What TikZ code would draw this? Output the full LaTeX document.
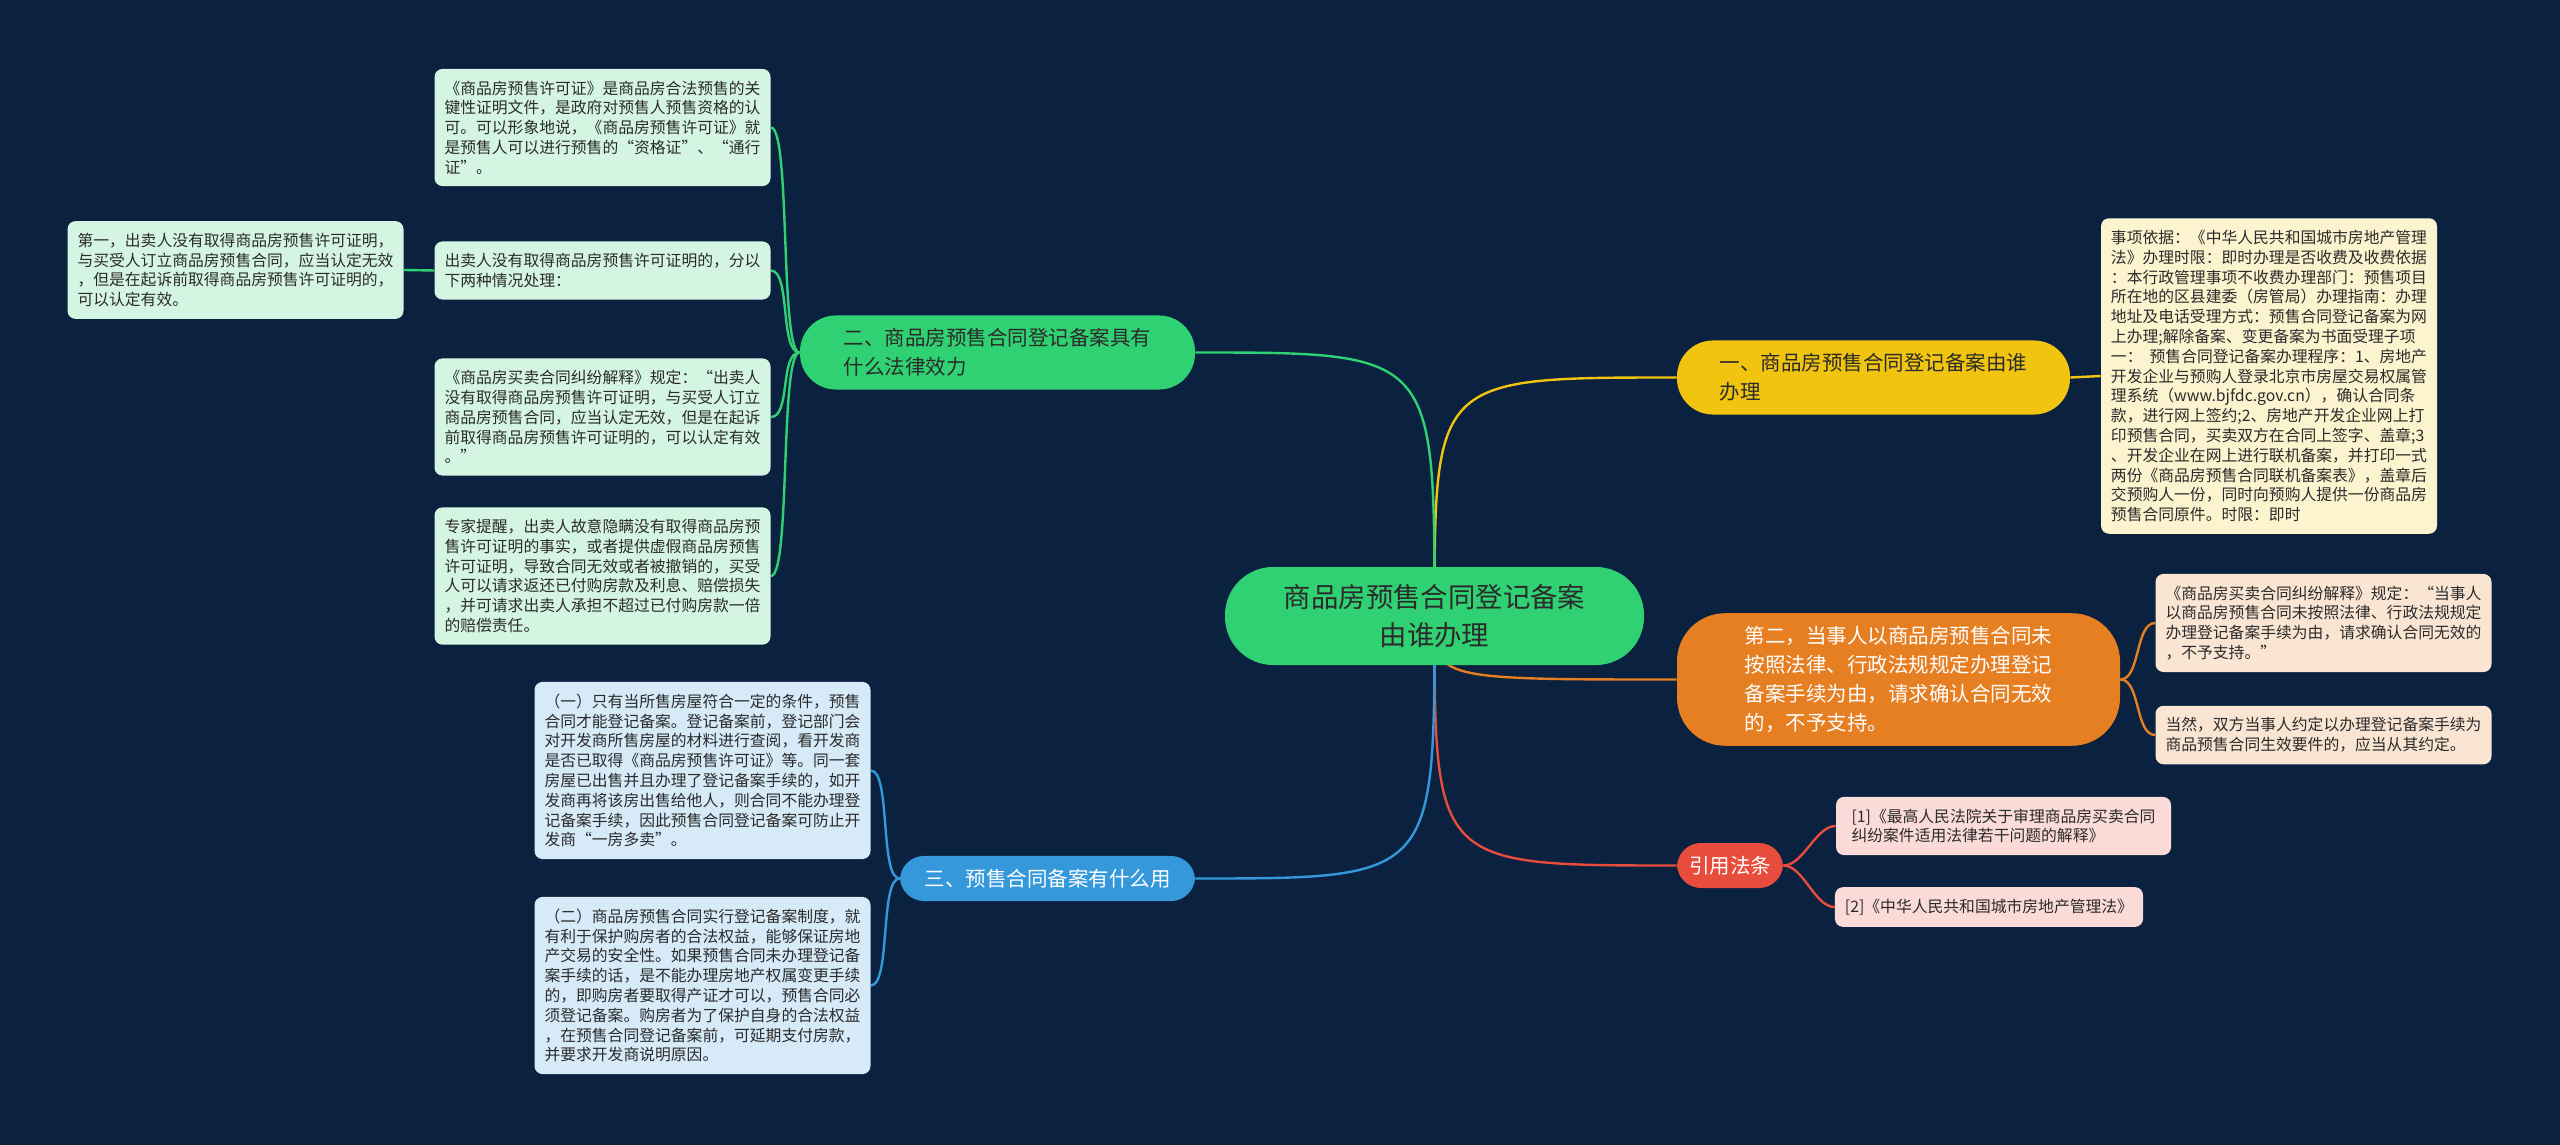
\documentclass[tikz,border=0pt]{standalone}
\usepackage{fontspec}
\newfontfamily\cjk{Noto Sans CJK SC}
\usetikzlibrary{backgrounds}
\definecolor{cbg}{HTML}{0B2140}
\definecolor{cgreen}{HTML}{2FD172}
\definecolor{cyellow}{HTML}{F1C40F}
\definecolor{corange}{HTML}{E67E22}
\definecolor{cred}{HTML}{E74C3C}
\definecolor{cblue}{HTML}{3498DB}
\definecolor{lgreen}{HTML}{D5F5E3}
\definecolor{lyellow}{HTML}{FCF3CF}
\definecolor{lorange}{HTML}{FAE5D3}
\definecolor{lred}{HTML}{FADBD8}
\definecolor{lblue}{HTML}{D6EAF8}
\definecolor{cdark}{HTML}{2B2B2B}
\tikzset{
  every picture/.style={x=0.5pt, y=-0.5pt},
  maintopic/.style={fill=cgreen, text=cdark, rounded corners=24pt, align=center, font=\cjk\fontsize{13.7}{18.8}\selectfont, minimum width=209.5pt, minimum height=49pt},
  branch/.style={fill=#1, rounded corners=12pt, align=left, font=\cjk\fontsize{10.25}{14.5}\selectfont, inner xsep=4pt, inner ysep=6.5pt},
  detail/.style={fill=#1, rounded corners=4pt, align=left, text=cdark, font=\cjk\fontsize{7.9}{9.9}\selectfont, inner xsep=5pt, inner ysep=5.9pt, minimum width=167.5pt},
  link/.style={draw=#1, line width=1.2pt},
}

\begin{document}
\begin{tikzpicture}
  \useasboundingbox (0,0) rectangle (2560,1145);
  \node[maintopic] (ctr) at (1434.5,616) {商品房预售合同登记备案\\由谁办理};
  % right branches
  \node[branch=cyellow, text=cdark, rounded corners=18pt, minimum width=196.5pt] (byel) at (1873.5,377.5) {一、商品房预售合同登记备案由谁\\办理};
  \node[branch=corange, text=white, rounded corners=24pt, minimum width=221.5pt] (bora) at (1898.5,679.5) {第二，当事人以商品房预售合同未\\按照法律、行政法规规定办理登记\\备案手续为由，请求确认合同无效\\的，不予支持。};
  \node[branch=cred, text=white, minimum width=53pt] (bred) at (1730,865.5) {引用法条};
  % left branches
  \node[branch=cgreen, text=cdark, rounded corners=18pt, minimum width=197.5pt] (bgrn) at (997.5,352.5) {二、商品房预售合同登记备案具有\\什么法律效力};
  \node[branch=cblue, text=white, minimum width=147.5pt] (bblu) at (1047.5,878.5) {三、预售合同备案有什么用};

  % yellow details
  \node[detail=lyellow] (y1) at (2269,376) {事项依据：《中华人民共和国城市房地产管理\\法》办理时限：即时办理是否收费及收费依据\\：本行政管理事项不收费办理部门：预售项目\\所在地的区县建委（房管局）办理指南：办理\\地址及电话受理方式：预售合同登记备案为网\\上办理;解除备案、变更备案为书面受理子项\\一：\ \ 预售合同登记备案办理程序：1、房地产\\开发企业与预购人登录北京市房屋交易权属管\\理系统（www.bjfdc.gov.cn），确认合同条\\款，进行网上签约;2、房地产开发企业网上打\\印预售合同，买卖双方在合同上签字、盖章;3\\、开发企业在网上进行联机备案，并打印一式\\两份《商品房预售合同联机备案表》，盖章后\\交预购人一份，同时向预购人提供一份商品房\\预售合同原件。时限：即时};
  % orange details
  \node[detail=lorange] (o1) at (2323.5,623) {《商品房买卖合同纠纷解释》规定：“当事人\\以商品房预售合同未按照法律、行政法规规定\\办理登记备案手续为由，请求确认合同无效的\\，不予支持。”};
  \node[detail=lorange] (o2) at (2323.5,735) {当然，双方当事人约定以办理登记备案手续为\\商品预售合同生效要件的，应当从其约定。};
  % red details
  \node[detail=lred] (r1) at (2003.5,826) {[1]《最高人民法院关于审理商品房买卖合同\\纠纷案件适用法律若干问题的解释》};
  \node[detail=lred, minimum width=0pt] (r2) at (1989,907) {[2]《中华人民共和国城市房地产管理法》};
  % green details
  \node[detail=lgreen] (g1) at (602.5,127.5) {《商品房预售许可证》是商品房合法预售的关\\键性证明文件，是政府对预售人预售资格的认\\可。可以形象地说，《商品房预售许可证》就\\是预售人可以进行预售的“资格证”、“通行\\证”。};
  \node[detail=lgreen] (g2) at (602.5,270.5) {出卖人没有取得商品房预售许可证明的，分以\\下两种情况处理：};
  \node[detail=lgreen] (g2a) at (235.5,270) {第一，出卖人没有取得商品房预售许可证明，\\与买受人订立商品房预售合同，应当认定无效\\，但是在起诉前取得商品房预售许可证明的，\\可以认定有效。};
  \node[detail=lgreen] (g3) at (602.5,417) {《商品房买卖合同纠纷解释》规定：“出卖人\\没有取得商品房预售许可证明，与买受人订立\\商品房预售合同，应当认定无效，但是在起诉\\前取得商品房预售许可证明的，可以认定有效\\。”};
  \node[detail=lgreen] (g4) at (602.5,576) {专家提醒，出卖人故意隐瞒没有取得商品房预\\售许可证明的事实，或者提供虚假商品房预售\\许可证明，导致合同无效或者被撤销的，买受\\人可以请求返还已付购房款及利息、赔偿损失\\，并可请求出卖人承担不超过已付购房款一倍\\的赔偿责任。};
  % blue details
  \node[detail=lblue] (b1) at (702.5,770.5) {（一）只有当所售房屋符合一定的条件，预售\\合同才能登记备案。登记备案前，登记部门会\\对开发商所售房屋的材料进行查阅，看开发商\\是否已取得《商品房预售许可证》等。同一套\\房屋已出售并且办理了登记备案手续的，如开\\发商再将该房出售给他人，则合同不能办理登\\记备案手续，因此预售合同登记备案可防止开\\发商“一房多卖”。};
  \node[detail=lblue] (b2) at (702.5,985.5) {（二）商品房预售合同实行登记备案制度，就\\有利于保护购房者的合法权益，能够保证房地\\产交易的安全性。如果预售合同未办理登记备\\案手续的话，是不能办理房地产权属变更手续\\的，即购房者要取得产证才可以，预售合同必\\须登记备案。购房者为了保护自身的合法权益\\，在预售合同登记备案前，可延期支付房款，\\并要求开发商说明原因。};

  \begin{scope}[on background layer]
    \fill[cbg] (0,0) rectangle (2560,1145);
    % from the centre
    \draw[link=cyellow] (ctr.center) .. controls (ctr.center |- byel.west) .. (byel.west);
    \draw[link=corange] (ctr.center) .. controls (ctr.center |- bora.west) .. (bora.west);
    \draw[link=cred] (ctr.center) .. controls (ctr.center |- bred.west) .. (bred.west);
    \draw[link=cgreen] (ctr.center) .. controls (ctr.center |- bgrn.east) .. (bgrn.east);
    \draw[link=cblue] (ctr.center) .. controls (ctr.center |- bblu.east) .. (bblu.east);
    % to the details
    \draw[link=cyellow] (byel.east) -- (y1.west);
    \foreach \d in {o1, o2}
      \draw[link=corange] (bora.east) .. controls +(20,0) and +(-20,0) .. (\d.west);
    \foreach \d in {r1, r2}
      \draw[link=cred] (bred.east) .. controls +(20,0) and +(-20,0) .. (\d.west);
    \foreach \d in {g1, g2, g3, g4}
      \draw[link=cgreen] (bgrn.west) .. controls +(-20,0) and +(20,0) .. (\d.east);
    \draw[link=cgreen] (g2.west) -- (g2a.east);
    \foreach \d in {b1, b2}
      \draw[link=cblue] (bblu.west) .. controls +(-20,0) and +(20,0) .. (\d.east);
  \end{scope}
\end{tikzpicture}
\end{document}
